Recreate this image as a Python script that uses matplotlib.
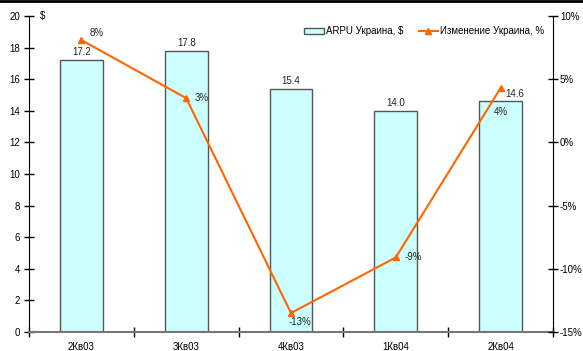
import matplotlib
matplotlib.use("Agg")
import matplotlib.pyplot as plt
from matplotlib.lines import Line2D
from matplotlib.ticker import FixedLocator

plt.rcParams['font.family'] = ['Liberation Sans', 'DejaVu Sans']

quarters = ["2Кв03", "3Кв03", "4Кв03", "1Кв04", "2Кв04"]
arpu = [17.2, 17.8, 15.4, 14.0, 14.6]
change_pct = [8.1, 3.5, -13.5, -9.1, 4.3]
change_labels = ["8%", "3%", "-13%", "-9%", "4%"]

bar_color = "#CCFFFF"
bar_edge = "#555555"
line_color = "#FF6600"
fs = 7

fig = plt.figure(figsize=(5.83, 3.51), dpi=100)
ax = fig.add_axes([29/583, 19/351, 524/583, 316/351])
ax2 = ax.twinx()

x = list(range(len(quarters)))
bars = ax.bar(x, arpu, width=0.41, color=bar_color, edgecolor=bar_edge,
              linewidth=1.0, label="ARPU Украина, $", zorder=2)
ax.set_xlim(-0.5, len(quarters) - 0.5)
ax.set_ylim(0, 20)
ax.set_yticks(range(0, 21, 2))

bar_label_dx = [0, 0, 0, 0, 10]
for xi, v, dx in zip(x, arpu, bar_label_dx):
    ax.annotate(f"{v:.1f}", (xi, v), xytext=(dx, 2), textcoords="offset points",
                ha="center", va="bottom", fontsize=fs, color="#222222")

line, = ax2.plot(x, change_pct, color=line_color, marker="^", markersize=5,
                 linewidth=1.5, label="Изменение Украина, %", zorder=3)
ax2.set_ylim(-15, 10)
ax2.set_yticks(range(-15, 11, 5))
ax2.set_yticklabels([f"{t}%" for t in range(-15, 11, 5)])

offsets = [(6, 5, "left", "center"), (6, 0, "left", "center"),
           (-2, -3, "left", "top"), (6, 0, "left", "center"),
           (0, -14, "center", "top")]
for xi, v, lab, (dx, dy, ha, va) in zip(x, change_pct, change_labels, offsets):
    ax2.annotate(lab, (xi, v), xytext=(dx, dy), textcoords="offset points",
                 ha=ha, va=va, fontsize=fs, color="#222222")

# x ticks at category boundaries, labels at centres
ax.xaxis.set_major_locator(FixedLocator([i + 0.5 for i in range(-1, len(quarters))]))
ax.xaxis.set_ticklabels([])
ax.xaxis.set_minor_locator(FixedLocator(x))
ax.xaxis.set_ticklabels(quarters, minor=True)
ax.tick_params(axis="x", which="major", direction="inout", length=7, width=1)
ax.tick_params(axis="x", which="minor", length=0, labelsize=fs, pad=7)

ax.tick_params(axis="y", direction="inout", length=7, width=1, labelsize=fs, pad=3)
ax2.tick_params(axis="y", direction="inout", length=7, width=1, labelsize=fs, pad=1.5)

for a in (ax, ax2):
    a.spines["top"].set_visible(False)
ax.spines["right"].set_visible(False)
ax2.spines["left"].set_visible(False)
ax.spines["bottom"].set_color("#777777")
ax.spines["bottom"].set_linewidth(1.5)
ax2.spines["bottom"].set_visible(False)

ax.text(0.02, 1.0, "$", transform=ax.transAxes, fontsize=fs, ha="left",
        va="center")

handles = [bars, line]
leg = ax2.legend(handles, [h.get_label() for h in handles], loc="upper right",
                 bbox_to_anchor=(1.0, 0.995), ncol=2, frameon=False,
                 fontsize=7, handlelength=2.0, handleheight=0.6,
                 columnspacing=1.6, handletextpad=0.2)

fig.add_artist(Line2D([0, 1], [0.997, 0.997], color="black", linewidth=2,
                      transform=fig.transFigure))

fig.savefig("out.png", dpi=100)
